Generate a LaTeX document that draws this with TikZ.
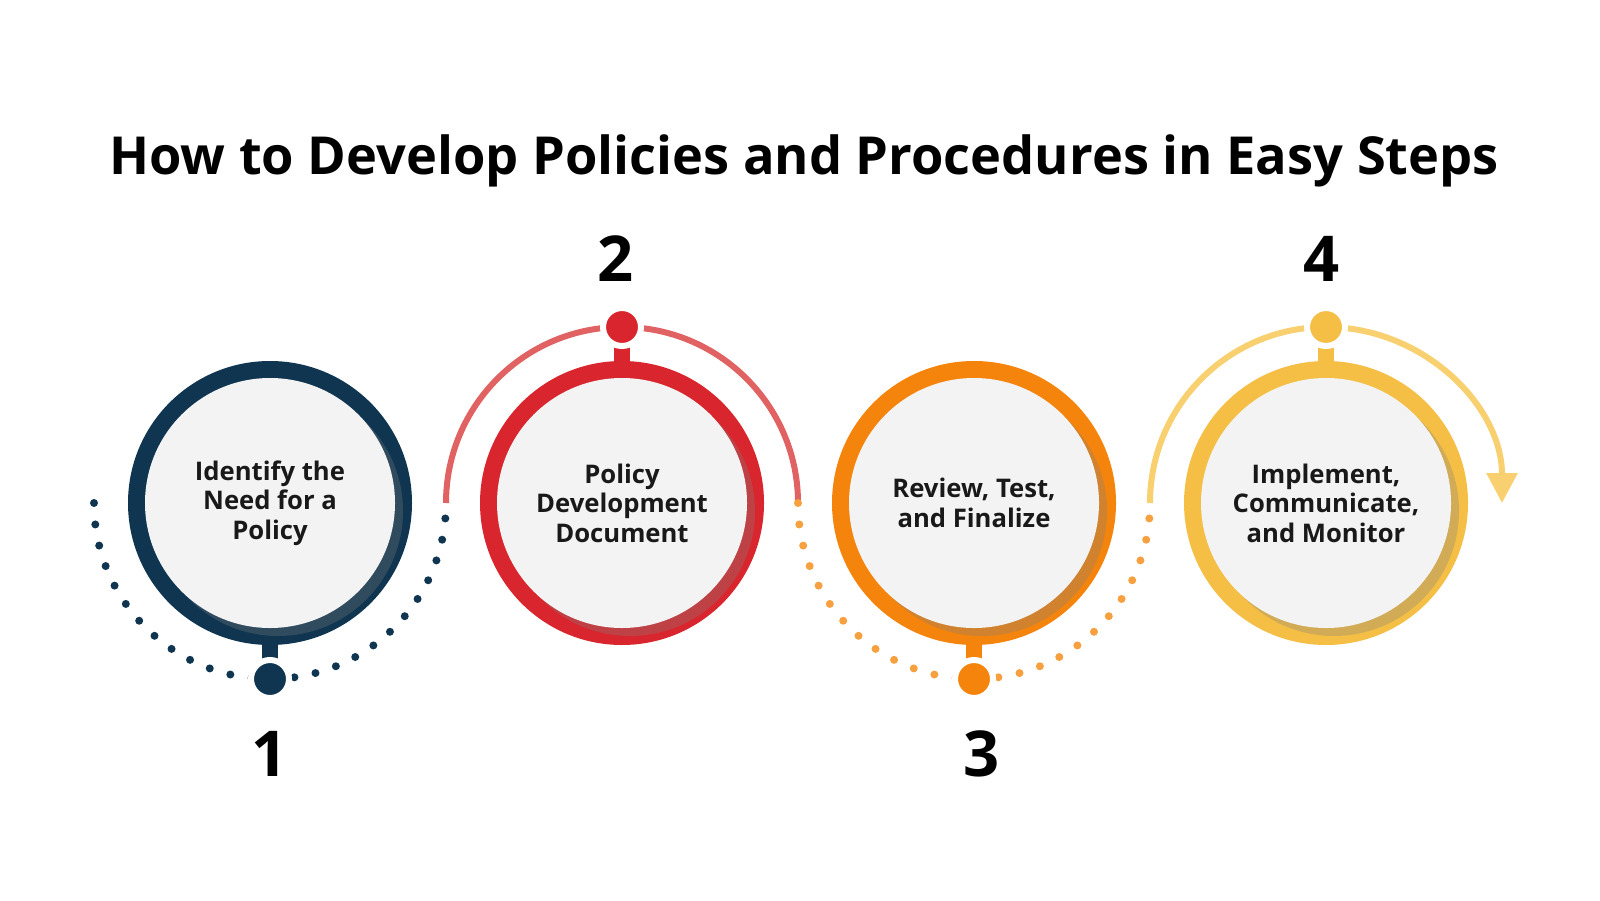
\documentclass[tikz,border=0pt]{standalone}
\usepackage{fontspec}
\setmainfont{Open Sans}
\usetikzlibrary{arrows.meta,shadows}
\definecolor{cA}{HTML}{0F3550}
\definecolor{cB}{HTML}{D9262E}
\definecolor{cBl}{HTML}{E06262}
\definecolor{cC}{HTML}{F5840C}
\definecolor{cCl}{HTML}{F6A040}
\definecolor{cD}{HTML}{F5BF45}
\definecolor{cDl}{HTML}{F8D070}
\definecolor{disc}{HTML}{F3F3F3}
\tikzset{
 ring/.style={line width=1.8mm},
 discs/.style={fill=disc, circle, minimum size=2.5cm, inner sep=0pt, drop shadow={shadow xshift=0.8mm,shadow yshift=-0.8mm,opacity=0.3}},
 lbl/.style={font=\bfseries\fontsize{7.3}{8.4}\selectfont, align=center, text=black!90},
 num/.style={font=\bfseries\fontsize{18}{20}\selectfont},
 dots/.style={line width=0.8mm, dash pattern=on 0pt off 2.15mm, line cap=round},
 knob/.style={circle, minimum size=3.8mm, inner sep=0pt, draw=white, line width=0.6mm}
}
\begin{document}
\begin{tikzpicture}
\useasboundingbox (0,0) rectangle (16,9);
\node[font=\bfseries\fontsize{14.9}{18}\selectfont] (title) at (8.04,7.39) {How to Develop Policies and Procedures in Easy Steps};
% step 1
\coordinate (c1) at (2.70,3.97);
\draw[cA,dots] ([shift={(180:1.76)}]c1) arc (180:360:1.76);
\draw[cA,line width=1.6mm] (c1) ++(0,-1.4) -- ++(0,-0.36);
\node[knob,fill=cA] (k1) at (2.70,2.21) {};
\draw[cA,ring] (c1) circle (1.33);
\node[discs,lbl] (s1) at (c1) {Identify the\\Need for a\\Policy};
\node[num] (n1) at (2.70,1.46) {1};
% step 2
\coordinate (c2) at (6.22,3.97);
\draw[cBl,line width=0.6mm] ([shift={(180:1.76)}]c2) arc (180:0:1.76);
\draw[cB,line width=1.6mm] (c2) ++(0,1.4) -- ++(0,0.36);
\node[knob,fill=cB] (k2) at (6.22,5.73) {};
\draw[cB,ring] (c2) circle (1.33);
\node[discs,lbl] (s2) at (c2) {Policy\\Development\\Document};
\node[num] (n2) at (6.16,6.41) {2};
% step 3
\coordinate (c3) at (9.74,3.97);
\draw[cCl,dots] ([shift={(180:1.76)}]c3) arc (180:360:1.76);
\draw[cC,line width=1.6mm] (c3) ++(0,-1.4) -- ++(0,-0.36);
\node[knob,fill=cC] (k3) at (9.74,2.21) {};
\draw[cC,ring] (c3) circle (1.33);
\node[discs,lbl] (s3) at (c3) {Review, Test,\\and Finalize};
\node[num] (n3) at (9.82,1.46) {3};
% step 4
\coordinate (c4) at (13.26,3.97);
\draw[cDl,line width=0.6mm,-{Triangle[length=3mm,width=3mm]}] ([shift={(180:1.76)}]c4) arc (180:0:1.76);
\draw[cD,line width=1.6mm] (c4) ++(0,1.4) -- ++(0,0.36);
\node[knob,fill=cD] (k4) at (13.26,5.73) {};
\draw[cD,ring] (c4) circle (1.33);
\node[discs,lbl] (s4) at (c4) {Implement,\\Communicate,\\and Monitor};
\node[num] (n4) at (13.22,6.41) {4};
\end{tikzpicture}
\end{document}
